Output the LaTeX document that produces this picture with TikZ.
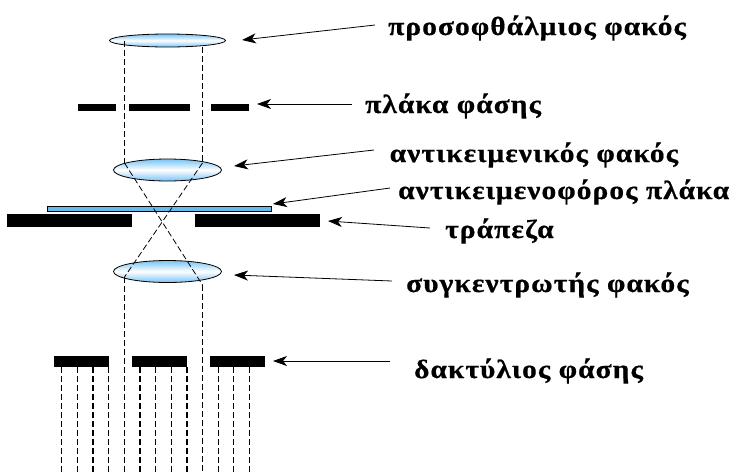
\documentclass[tikz,border=0pt]{standalone}
\usepackage{fontspec}
\setmainfont{Liberation Serif}[BoldFeatures={FakeStretch=1.12,LetterSpace=4,FakeBold=0.6}]
\usetikzlibrary{arrows.meta}
\definecolor{lensblue}{RGB}{120,195,245}
\definecolor{slideblue}{RGB}{105,185,235}
\tikzset{
  x=1pt,y=-1pt,
  lens/.style={draw=black,line width=0.8pt,top color=lensblue,bottom color=lensblue,middle color=white},
  bar/.style={fill=black,draw=none},
  ray/.style={line width=0.8pt,dash pattern=on 6pt off 3pt},
  thickray/.style={line width=1.4pt,dash pattern=on 6pt off 3pt},
  pointer/.style={line width=0.8pt,-{Stealth[length=14pt,width=10pt,inset=4pt]}},
  lbl/.style={font=\bfseries\fontsize{26.3}{28}\selectfont,inner sep=0pt,anchor=base west}
}
\begin{document}
\begin{tikzpicture}
\useasboundingbox (0,0) rectangle (738,472);
% lenses
\draw[lens] (167.5,40.5) ellipse [x radius=58,y radius=6.5];
\draw[lens] (167.5,170) ellipse [x radius=54,y radius=11];
\draw[lens] (167.5,271.5) ellipse [x radius=54,y radius=11];
% bars
\fill[bar] (78,104) rectangle (116,111);
\fill[bar] (129,104) rectangle (190,111);
\fill[bar] (211,104) rectangle (249,111);
\fill[bar] (7,214) rectangle (132,227);
\fill[bar] (195,214) rectangle (320,227);
\fill[bar] (54,356) rectangle (109,367);
\fill[bar] (132,356) rectangle (187,367);
\fill[bar] (210,356) rectangle (265,367);
% slide
\draw[fill=slideblue,line width=0.8pt] (47.5,206.5) rectangle (271.5,211.5);
% rays
\coordinate (la) at (124.5,41);
\coordinate (lb) at (124.5,163);
\coordinate (ra) at (202.5,47);
\coordinate (rb) at (202.5,163);
\coordinate (lc) at (124.5,277);
\coordinate (rc) at (202.5,285);
\draw[ray] (la) -- (lb);
\draw[ray] (ra) -- (rb);
\draw[ray] (lb) -- (rc);
\draw[ray] (rb) -- (lc);
\draw[ray] (lc) -- (124.5,472);
\draw[ray] (rc) -- (202.5,472);
\foreach \px in {61.5,77.5,108.5,155.5,171.5,218.5,233.5,249.5}{
  \draw[ray] (\px,367) -- (\px,472);
}
\foreach \px in {93,140,187}{
  \draw[thickray] (\px,367) -- (\px,472);
}
% labels
\node[lbl] (t1) at (388,35) {προσοφθάλμιος φακός};
\node[lbl] (t2) at (365,113) {πλάκα φάσης};
\node[lbl] (t3) at (389.5,162) {αντικειμενικός φακός};
\node[lbl] (t4) at (398,199) {αντικειμενοφόρος πλάκα};
\node[lbl] (t5) at (445,238) {τράπεζα};
\node[lbl] (t6) at (406,292) {συγκεντρωτής φακός};
\node[lbl] (t7) at (414,378) {δακτύλιος φάσης};
% pointers
\coordinate (s1) at (375,25); \coordinate (e1) at (242,40);
\coordinate (s2) at (352,104); \coordinate (e2) at (257,104);
\coordinate (s3) at (374,150); \coordinate (e3) at (234,166);
\coordinate (s4) at (390,188); \coordinate (e4) at (273,204);
\coordinate (s5) at (430,228); \coordinate (e5) at (328,221);
\coordinate (s6) at (392,281); \coordinate (e6) at (234,275);
\coordinate (s7) at (390,361); \coordinate (e7) at (273,361);
\foreach \i in {1,...,7}{\draw[pointer] (s\i) -- (e\i);}
\end{tikzpicture}
\end{document}
